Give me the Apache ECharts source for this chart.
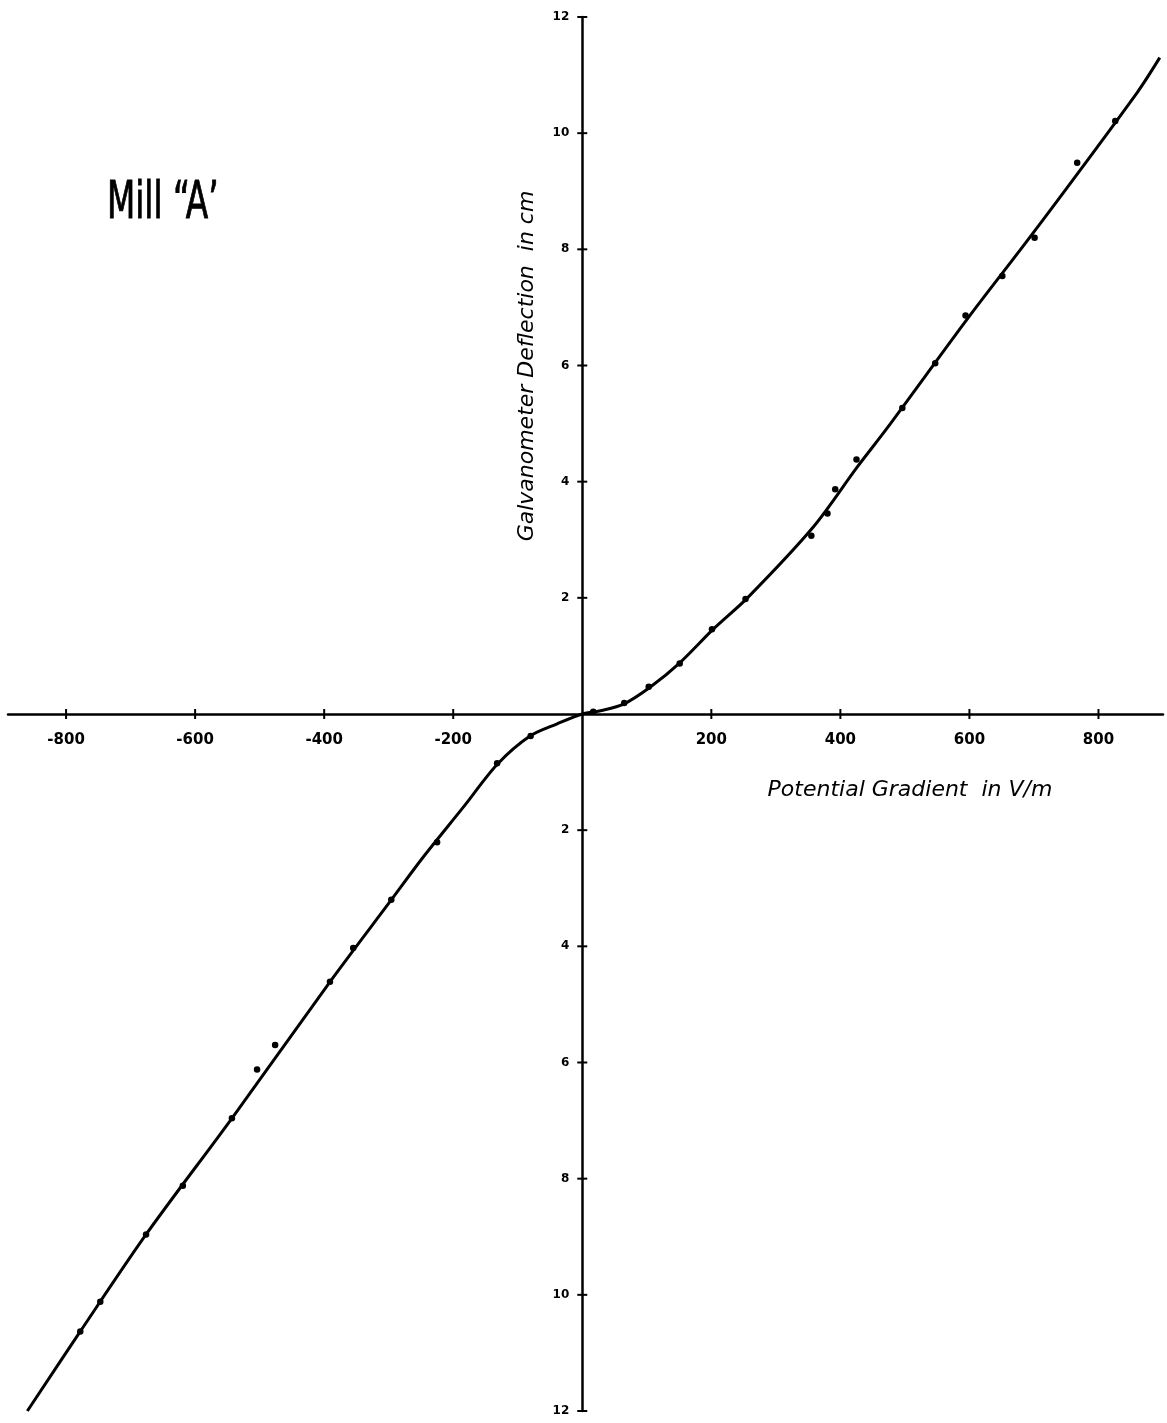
<!DOCTYPE html>
<html>
<head>
<meta charset="utf-8">
<script src="https://cdn.jsdelivr.net/npm/echarts@6/dist/echarts.min.js"></script>
<style>
html,body{margin:0;padding:0;background:#fff;}
#chart{width:1167px;height:1423px;}
</style>
</head>
<body>
<div id="chart"></div>
<script>
// Tick labels
const xTicks = [-800, -600, -400, -200, 200, 400, 600, 800];
const yTicks = [-12, -10, -8, -6, -4, -2, 2, 4, 6, 8, 10, 12];

// Measured points (Potential gradient V/m, deflection cm)
const pointX = [17, 65, 103, 151, 201, 253, 355, 380, 392, 425, 496, 547, 594, 651, 701, 767, 826,
                -80, -132, -225, -296, -355, -391, -476, -504, -543, -619, -676, -747, -778];
const pointY = [0.04, 0.19, 0.47, 0.87, 1.46, 1.98, 3.07, 3.45, 3.87, 4.38, 5.27, 6.04, 6.86, 7.54, 8.2, 9.49, 10.21,
                -0.38, -0.85, -2.21, -3.2, -4.03, -4.61, -5.7, -6.12, -6.96, -8.12, -8.96, -10.12, -10.63];

// Hand-drawn calibration curve
const curveX = [-860, -778, -676, -543, -391, -296, -247, -184, -132, -81, -39, 0, 30, 64, 105, 152, 203, 256, 358, 426, 473, 600, 700, 860, 895];
const curveY = [-12.0, -10.63, -8.96, -6.96, -4.61, -3.2, -2.47, -1.6, -0.87, -0.38, -0.17, 0, 0.06, 0.17, 0.46, 0.89, 1.46, 2.0, 3.22, 4.25, 4.93, 6.85, 8.3, 10.7, 11.3];

const points = pointX.map((x, i) => [x, pointY[i]]);
const curve = curveX.map((x, i) => [x, curveY[i]]);

const font = 'DejaVu Sans';
const chart = echarts.init(document.getElementById('chart'));

chart.setOption({
  animation: false,
  backgroundColor: '#fff',
  grid: {left: 8, right: 4, top: 17, bottom: 12, containLabel: false, outerBoundsMode: 'none'},
  xAxis: {
    type: 'value', min: -890, max: 900,
    splitLine: {show: false},
    axisLine: {onZero: true, lineStyle: {color: '#000', width: 2.5}},
    axisTick: {show: false},
    axisLabel: {show: false}
  },
  yAxis: {
    type: 'value', min: -12, max: 12, interval: 2,
    splitLine: {show: false},
    axisLine: {onZero: true, lineStyle: {color: '#000', width: 2.5}},
    axisTick: {show: false},
    axisLabel: {show: false}
  },
  series: [
    {
      type: 'line', data: curve,
      smooth: 0.3, symbol: 'none',
      lineStyle: {color: '#000', width: 3}
    },
    {
      type: 'scatter', data: points,
      symbol: 'circle', symbolSize: 6.5,
      itemStyle: {color: '#000', opacity: 1}
    },
    {
      // x-axis ticks (crossing) and tick labels
      type: 'scatter', data: xTicks.map(v => [v, 0]), silent: true,
      symbol: 'rect', symbolSize: [2, 10], itemStyle: {color: '#000', opacity: 1},
      label: {show: true, position: 'bottom', distance: 14, color: '#000', opacity: 1, fontFamily: font, fontWeight: 'bold', fontSize: 15,
        formatter: p => String(p.value[0])}
    },
    {
      // y-axis ticks (crossing) and tick labels (unsigned on both sides)
      type: 'scatter', data: yTicks.map(v => [0, v]), silent: true,
      symbol: 'rect', symbolSize: [10, 2], itemStyle: {color: '#000', opacity: 1},
      label: {show: true, position: 'left', distance: 8, color: '#000', opacity: 1, fontFamily: font, fontWeight: 'bold', fontSize: 12,
        formatter: p => String(Math.abs(p.value[1]))}
    }
  ],
  graphic: [
    {type: 'text', x: 107, y: 178, scaleX: 0.63,
      style: {text: 'Mill \u201CA\u2019', font: '52px "DejaVu Sans", sans-serif', fill: '#000', stroke: '#000', lineWidth: 1}},
    {type: 'text', x: 527, y: 366, rotation: Math.PI / 2,
      style: {text: 'Galvanometer Deflection  in cm', font: 'italic 22px "DejaVu Sans", sans-serif', fill: '#000', align: 'center', verticalAlign: 'middle'}},
    {type: 'text', x: 910, y: 790,
      style: {text: 'Potential Gradient  in V/m', font: 'italic 22px "DejaVu Sans", sans-serif', fill: '#000', align: 'center', verticalAlign: 'middle'}}
  ]
});
</script>
</body>
</html>
